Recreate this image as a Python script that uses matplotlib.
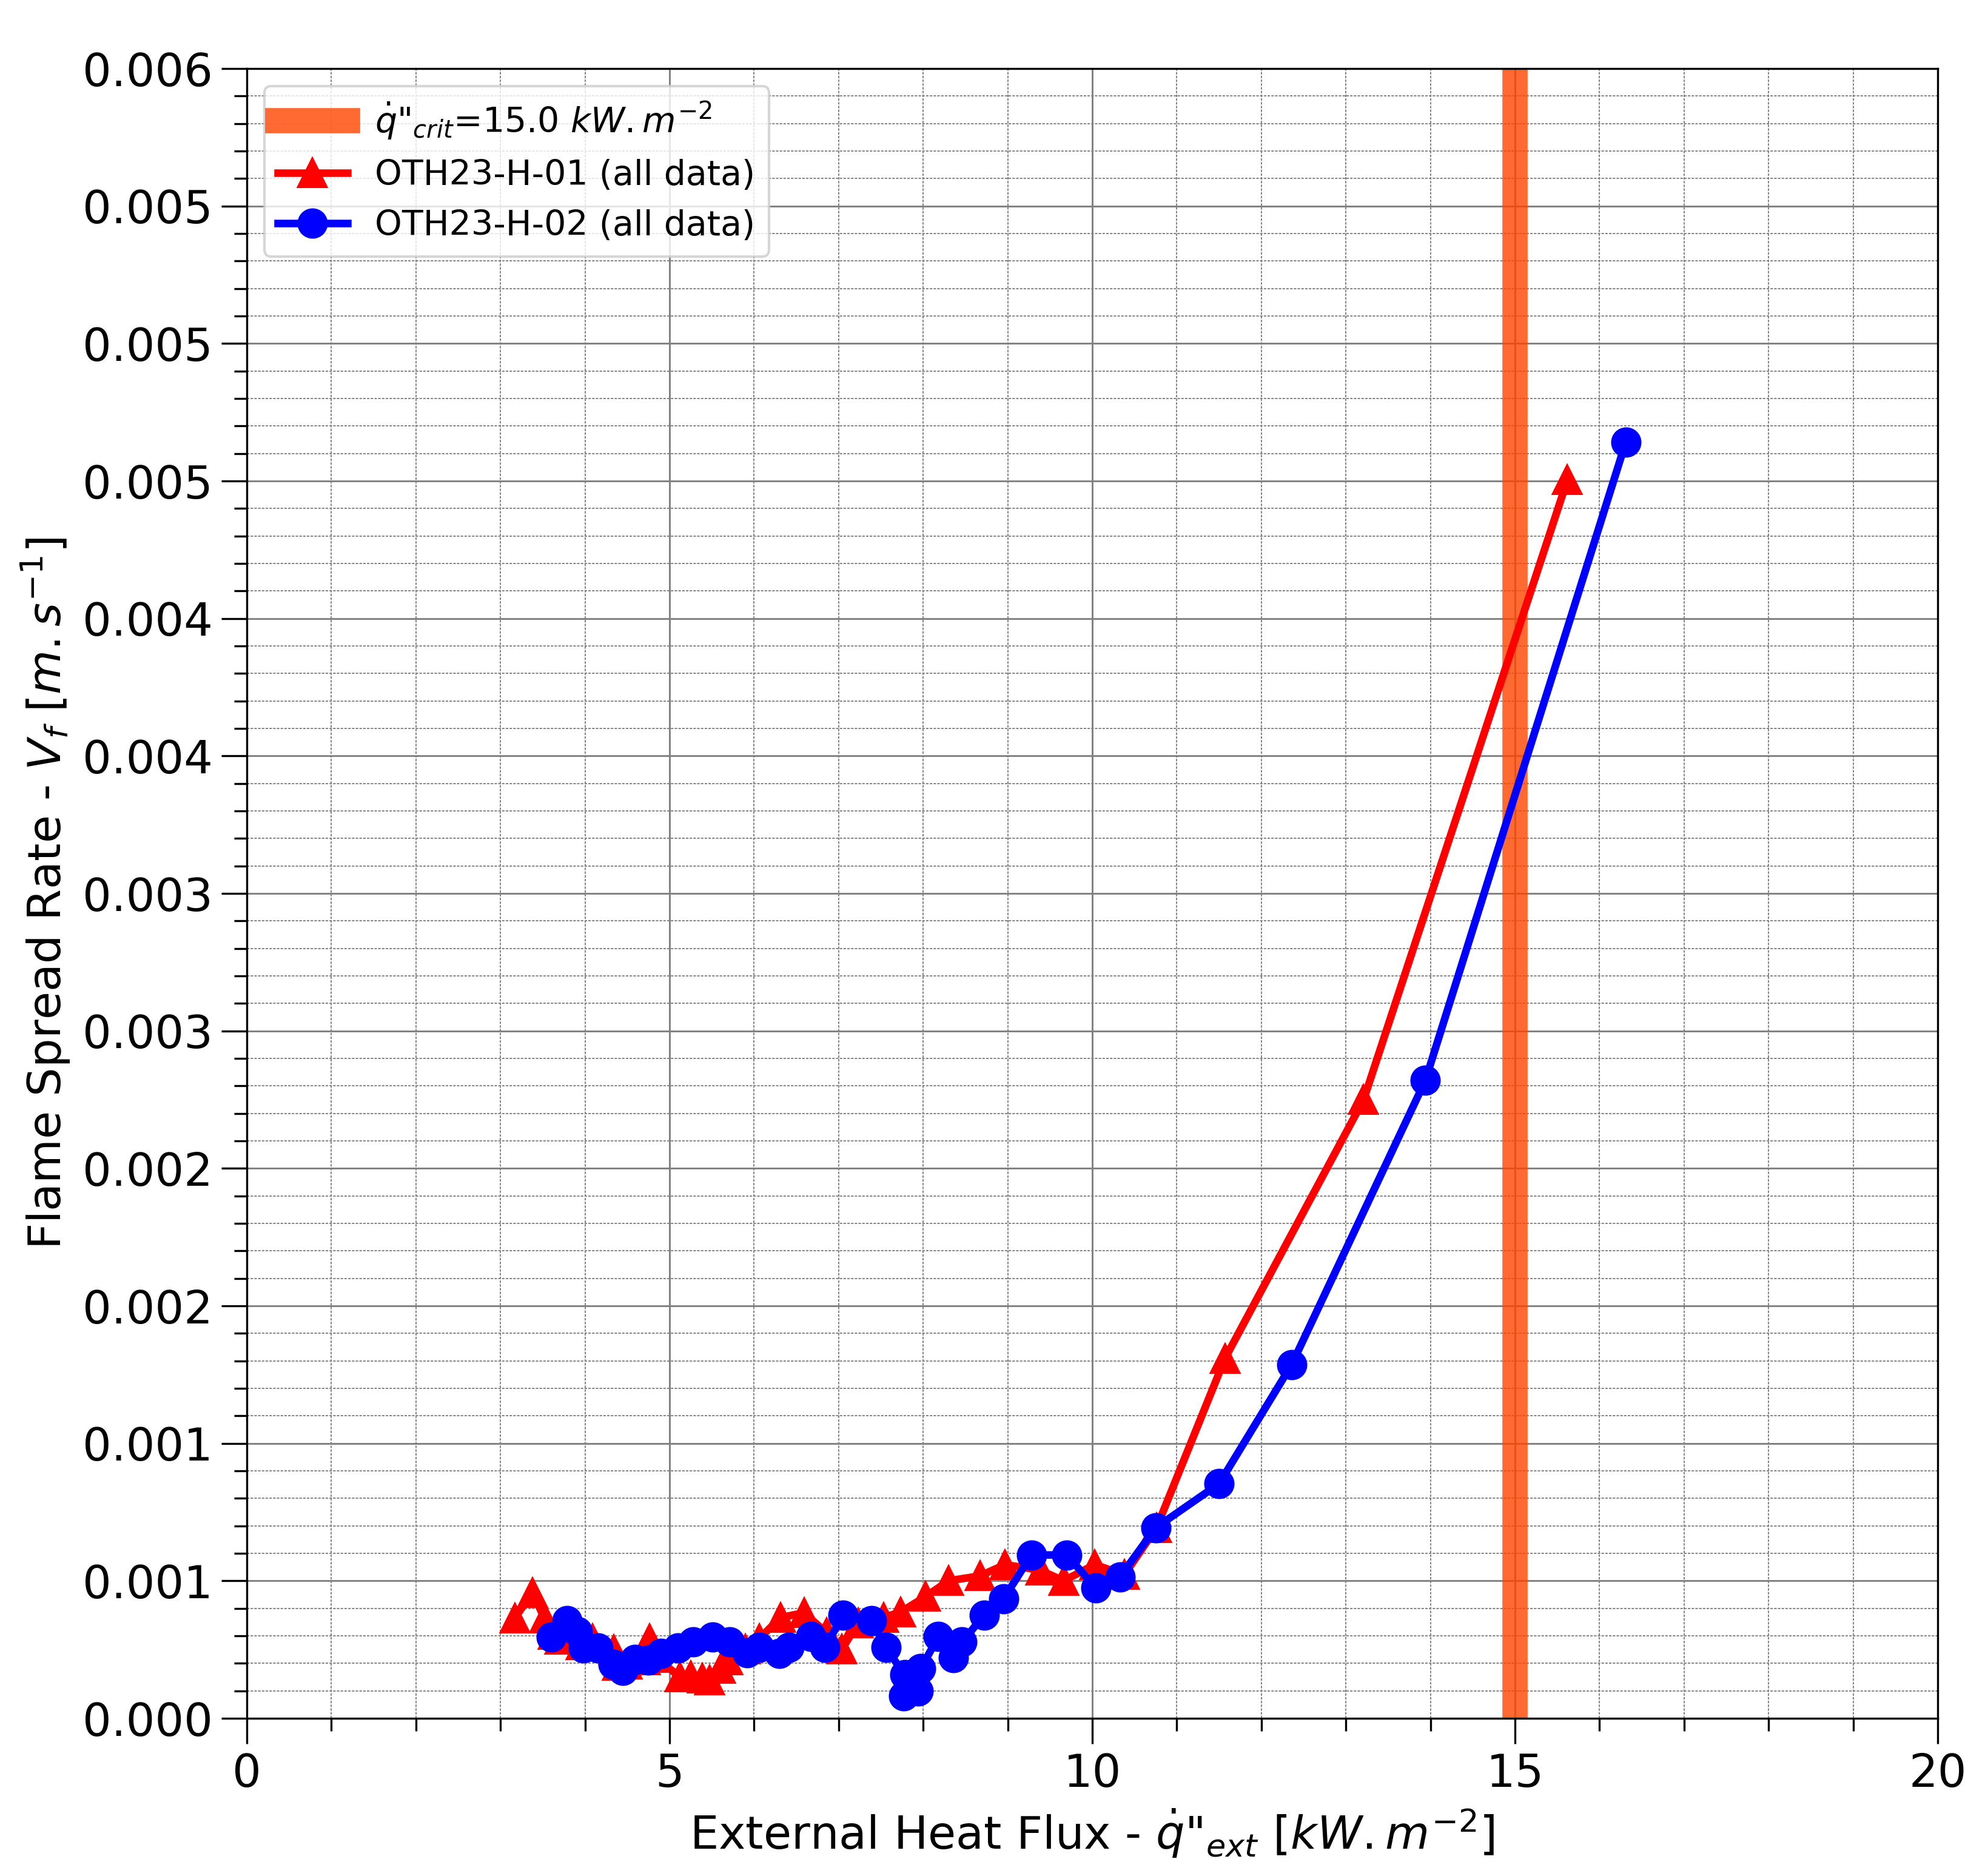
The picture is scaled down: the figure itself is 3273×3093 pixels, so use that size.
import numpy as np
import matplotlib
matplotlib.use("Agg")
import matplotlib.pyplot as plt
from matplotlib.ticker import MultipleLocator

# ---- data ----
red_x = [3.17, 3.38, 3.52, 3.62, 3.70, 3.95, 4.09, 4.34, 4.38, 4.50, 4.71, 4.76,
         4.85, 5.12, 5.25, 5.39, 5.47, 5.60, 5.69, 5.90, 6.06, 6.31, 6.59, 6.86,
         7.04, 7.23, 7.53, 7.73, 8.03, 8.30, 8.67, 8.97, 9.39, 9.66, 10.03, 10.38,
         10.76, 11.57, 13.21, 15.62]
red_y = [0.000365, 0.000457, 0.000363, 0.000304, 0.000287, 0.000267, 0.000289,
         0.000249, 0.000192, 0.000197, 0.000212, 0.000289, 0.000220, 0.000150,
         0.000155, 0.000146, 0.000140, 0.000180, 0.000212, 0.000252, 0.000289,
         0.000366, 0.000384, 0.000310, 0.000252, 0.000346, 0.000367, 0.000386,
         0.000443, 0.000500, 0.000518, 0.000559, 0.000538, 0.000500, 0.000559,
         0.000522, 0.000693, 0.001309, 0.002250, 0.004504]

blue_x = [3.60, 3.79, 3.91, 3.98, 4.15, 4.33, 4.45, 4.59, 4.75, 4.90, 5.10, 5.28,
          5.51, 5.71, 5.92, 6.06, 6.30, 6.41, 6.67, 6.84, 7.05, 7.39, 7.56, 7.78,
          7.77, 7.94, 7.97, 8.18, 8.36, 8.46, 8.72, 8.95, 9.28, 9.70, 10.04, 10.33,
          10.75, 11.50, 12.36, 13.94, 16.31]
blue_y = [0.000296, 0.000355, 0.000315, 0.000256, 0.000256, 0.000197, 0.000175,
          0.000215, 0.000212, 0.000237, 0.000256, 0.000278, 0.000296, 0.000278,
          0.000238, 0.000257, 0.000235, 0.000257, 0.000297, 0.000257, 0.000375,
          0.000356, 0.000257, 0.000158, 0.000081, 0.000099, 0.000180, 0.000297,
          0.000220, 0.000277, 0.000375, 0.000434, 0.000594, 0.000594, 0.000474,
          0.000515, 0.000693, 0.000853, 0.001287, 0.002320, 0.004641]

q_crit = 15.0
series_labels = ["OTH23-H-01 (all data)", "OTH23-H-02 (all data)"]
crit_label = r'$\dot{q}$"$_{crit}$=15.0 $kW.m^{-2}$'

xtick_values = [0, 5, 10, 15, 20]
xtick_labels = ["0", "5", "10", "15", "20"]
ytick_values = [i * 0.0005 for i in range(13)]
ytick_labels = ["0.000", "0.001", "0.001", "0.002", "0.002", "0.003", "0.003",
                "0.004", "0.004", "0.005", "0.005", "0.005", "0.006"]

xlabel = r'External Heat Flux - $\dot{q}$"$_{ext}$ $[kW.m^{-2}]$'
ylabel = r'Flame Spread Rate - $V_f$ $[m.s^{-1}]$'

# ---- figure ----
fig = plt.figure(figsize=(3273 / 300, 3093 / 300), dpi=300)
ax = fig.add_axes([0.12435, 0.08406, 0.85182, 0.87940])
ax.set_axisbelow(True)

ax.axvline(q_crit, color="orangered", alpha=0.8, linewidth=10, label=crit_label)
ax.plot(red_x, red_y, color="red", marker="^", markersize=11, linewidth=3,
        label=series_labels[0])
ax.plot(blue_x, blue_y, color="blue", marker="o", markersize=11, linewidth=3,
        label=series_labels[1])

ax.set_xlim(0, 20)
ax.set_ylim(0, 0.006)
ax.set_xticks(xtick_values, xtick_labels)
ax.set_yticks(ytick_values, ytick_labels)
ax.xaxis.set_minor_locator(MultipleLocator(1))
ax.yaxis.set_minor_locator(MultipleLocator(0.0001))

ax.tick_params(which="major", direction="out", length=10, width=0.8, labelsize=18)
ax.tick_params(which="minor", direction="out", length=5, width=0.8)

ax.grid(which="major", color="gray", linestyle="-", linewidth=0.7)
ax.grid(which="minor", color="gray", linestyle=(0, (2.2, 1.1)), linewidth=0.45)

ax.set_xlabel(xlabel, fontsize=18)
ax.set_ylabel(ylabel, fontsize=18)

ax.legend(loc="upper left", fontsize=13.7, labelspacing=0.5)

fig.savefig("out.png", dpi=300)
